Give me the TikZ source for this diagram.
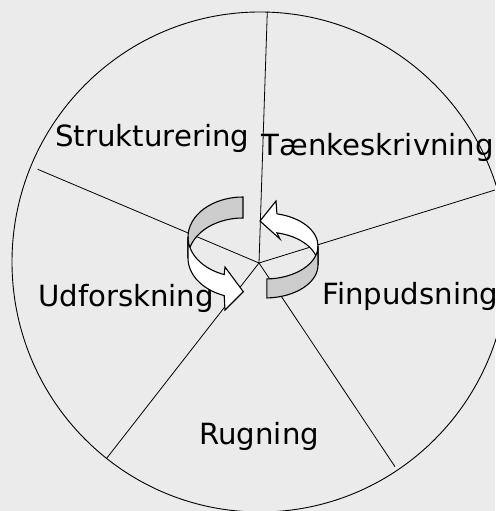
\documentclass[tikz,border=0pt]{standalone}
\usepackage{fontspec}
\setmainfont{DejaVu Sans}
\usepackage{tikz}
\usetikzlibrary{positioning}
\usetikzlibrary{calc}
\definecolor{paper}{HTML}{EBEBEB}
\definecolor{band}{HTML}{CCCCCC}

\begin{document}
\begin{tikzpicture}[x=1pt, y=1pt, line width=0.8pt]
    \tikzset{
      phase/.style={anchor=base west, inner sep=0pt, font=\fontsize{29.2}{34}\selectfont},
      ribbon/.style={draw=black, line width=1.1pt, line join=miter}
    }
    \useasboundingbox (0,0) rectangle (495,511);
    \fill[paper] (0,0) rectangle (495,511);

    % Wheel
    \coordinate (O) at (259,248);
    \coordinate (P1) at (267.3,499.3);
    \coordinate (P2) at (495,321);
    \coordinate (P3) at (395,44.3);
    \coordinate (P4) at (106.5,52.5);
    \coordinate (P5) at (37.7,341.7);

    \draw[line width=0.9pt] (260,249) ellipse [x radius=248, y radius=250];
    \foreach \p in {P1,P2,P3,P4,P5}
        \draw (O) -- (\p);

    \node[phase] (struk) at (55,364.3) {Strukturering};
    \node[phase] (taenk) at (261.5,355) {Tænkeskrivning};
    \node[phase] (udfor) at (37.7,204.3) {Udforskning};
    \node[phase] (finpu) at (322,206) {Finpudsning};
    \node[phase] (rugn) at (199,66) {Rugning};

    % Left arrow: grey back, white front
    \coordinate (L1) at (243,274);
    \coordinate (L2) at (243,253);
    \filldraw[ribbon, fill=band] ([shift={(90:55 and 40)}]L1)
        arc[start angle=90, end angle=180, x radius=55, y radius=40]
        -- ([shift={(180:55 and 40)}]L2)
        arc[start angle=180, end angle=90, x radius=55, y radius=40] -- cycle;
    \filldraw[ribbon, fill=white] ([shift={(180:55 and 40)}]L1)
        arc[start angle=180, end angle=250, x radius=55, y radius=40]
        -- (225,244) -- (243.3,219.3) -- (225,201)
        -- ([shift={(250:55 and 40)}]L2)
        arc[start angle=250, end angle=180, x radius=55, y radius=40] -- cycle;

    % Right arrow: white back, grey front
    \coordinate (R1) at (265,265);
    \coordinate (R2) at (265,246);
    \filldraw[ribbon, fill=white] ([shift={(0:53 and 33)}]R1)
        arc[start angle=0, end angle=77, x radius=53, y radius=33]
        -- (276,310) -- (260,290) -- (280,272)
        -- ([shift={(77:53 and 33)}]R2)
        arc[start angle=77, end angle=0, x radius=53, y radius=33] -- cycle;
    \filldraw[ribbon, fill=band] ([shift={(272:53 and 33)}]R1)
        arc[start angle=272, end angle=360, x radius=53, y radius=33]
        -- ([shift={(0:53 and 33)}]R2)
        arc[start angle=360, end angle=272, x radius=53, y radius=33] -- cycle;
\end{tikzpicture}
\end{document}
